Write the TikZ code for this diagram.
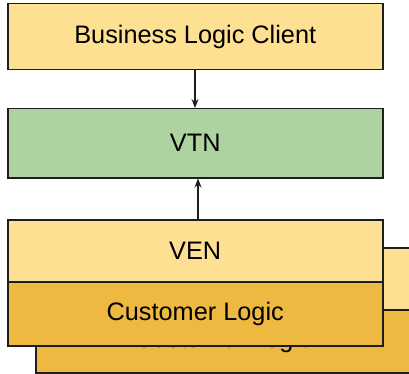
\documentclass[tikz,border=0pt]{standalone}
\usepackage{fontspec}
\setmainfont{Liberation Sans}
\usetikzlibrary{arrows.meta}
\definecolor{lightyel}{HTML}{FEE092}
\definecolor{lightgrn}{HTML}{AFD2A1}
\definecolor{darkyel}{HTML}{EDB940}
\definecolor{edge}{HTML}{1E1E1E}
\tikzset{
  box/.style={draw=edge, line width=1.5pt, minimum width=375pt, inner sep=0pt, anchor=north west, font=\fontsize{25.3}{30}\selectfont, text=black},
  conn/.style={draw=edge, line width=1.2pt, -{Stealth[length=9pt,width=7pt]}}
}
\begin{document}
\begin{tikzpicture}[x=1pt,y=-1pt]
\useasboundingbox (0,0) rectangle (409,374);
% back stack (clipped at right edge)
\begin{scope}
\clip (0,0) rectangle (409,374);
\node[box, fill=lightyel, minimum height=62pt] (venb) at (35,247) {};
\node[box, fill=darkyel, minimum height=63pt] (clb) at (35,309) {Customer Logic};
\end{scope}
% front nodes
\node[box, fill=lightyel, minimum height=66pt] (blc) at (7,3) {Business Logic Client};
\node[box, fill=lightgrn, minimum height=69pt] (vtn) at (7,108) {VTN};
\node[box, fill=lightyel, minimum height=62pt] (ven) at (7,219) {VEN};
\node[box, fill=darkyel, minimum height=64pt] (cl) at (7,281) {Customer Logic};
% connectors
\draw[conn] (blc.south -| 195,0) -- (vtn.north -| 195,0);
\draw[conn] (ven.north -| 198,0) -- (vtn.south -| 198,0);
\end{tikzpicture}
\end{document}
